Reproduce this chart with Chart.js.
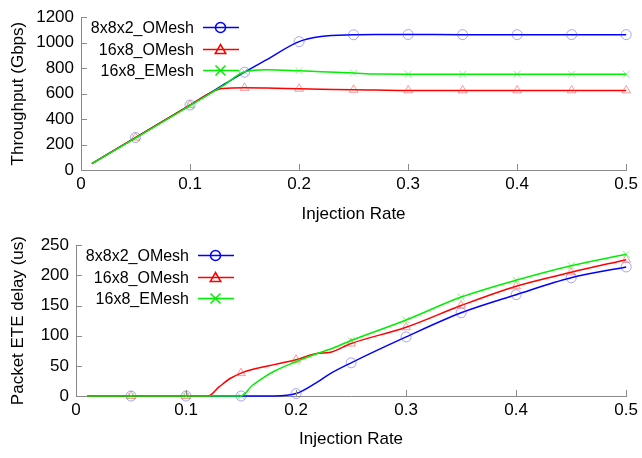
<!DOCTYPE html>
<html>
<head>
<meta charset="utf-8">
<script src="https://cdn.jsdelivr.net/npm/chart.js@4/dist/chart.umd.min.js"></script>
<style>
  html, body { margin: 0; padding: 0; background: #fff; }
  #wrap { width: 642px; height: 458px; position: relative; }
  .box { position: absolute; left: 0; width: 642px; }
</style>
</head>
<body>
<div id="wrap">
  <div class="box" style="top:0;height:228px"><canvas id="top" width="642" height="228"></canvas></div>
  <div class="box" style="top:228px;height:230px"><canvas id="bot" width="642" height="230"></canvas></div>
</div>
<script>
// ---------- data ----------
const seriesNames = ['8x8x2_OMesh', '16x8_OMesh', '16x8_EMesh'];
const markerRates = [0.05, 0.1, 0.15, 0.2, 0.25, 0.3, 0.35, 0.4, 0.45, 0.5];
const xTickLabels = ['0', '0.1', '0.2', '0.3', '0.4', '0.5'];

// Throughput (Gbps)
const thrRates  = [0.01, 0.05, 0.1, 0.12, 0.13, 0.15, 0.17, 0.2, 0.22, 0.25, 0.27, 0.3, 0.35, 0.4, 0.45, 0.5];
const thrOMesh3D = [50, 255, 510, 614, 666, 768, 865, 1008, 1048, 1062, 1064, 1064, 1063, 1063, 1063, 1063];
const thrOMesh2D = [50, 255, 510, 612, 640, 645, 643, 638, 635, 630, 628, 625, 625, 625, 625, 625];
const thrEMesh2D = [50, 250, 505, 608, 660, 772, 788, 780, 772, 762, 753, 752, 752, 752, 752, 752];
const thrTicks = [0, 200, 400, 600, 800, 1000, 1200];

// Packet ETE delay (us)
const delRates   = [0.01, 0.05, 0.1, 0.12, 0.13, 0.14, 0.15, 0.16, 0.17, 0.18, 0.2, 0.22, 0.23, 0.25, 0.3, 0.35, 0.4, 0.45, 0.5];
const delOMesh3D = [0, 0, 0, 0, 0, 0, 0, 0, 0, 0, 4, 24, 36, 55, 98, 138, 168, 196, 214];
const delOMesh2D = [0, 0, 0, 0, 15, 29, 38, 44, 48, 52, 60, 71, 72, 87, 114, 150, 182, 205, 226];
const delEMesh2D = [0, 0, 0, 0, 0, 0, 0, 17, 30, 41, 57, 71, 77, 92, 126, 164, 192, 216, 235];
const delTicks = [0, 50, 100, 150, 200, 250];

// ---------- styling ----------
const FONT = "'Liberation Sans', Arial, sans-serif";
const lineColors   = ['#0000ff', '#ff0000', '#00ee00'];
const markerColors = ['rgba(60,60,255,0.45)', 'rgba(255,60,60,0.5)', 'rgba(40,230,40,0.5)'];
const markerStyles = ['circle', 'triangle', 'crossRot'];
const drawOrder = [3, 2, 1];
const AXIS = '#8a8a8a';

function drawMarker(ctx, style, x, y, r) {
  ctx.beginPath();
  if (style === 'circle') {
    ctx.arc(x, y, r, 0, Math.PI * 2);
  } else if (style === 'triangle') {
    ctx.moveTo(x, y - r);
    ctx.lineTo(x + r * 1.05, y + r * 0.8);
    ctx.lineTo(x - r * 1.05, y + r * 0.8);
    ctx.closePath();
  } else {
    ctx.moveTo(x - r, y - r); ctx.lineTo(x + r, y + r);
    ctx.moveTo(x + r, y - r); ctx.lineTo(x - r, y + r);
  }
  ctx.stroke();
}

const gpPlugin = {
  id: 'gp',
  afterDraw(chart) {
    const ctx = chart.ctx;
    const area = chart.chartArea;
    const xs = chart.scales.x, ys = chart.scales.y;
    ctx.save();
    // inward ticks
    ctx.strokeStyle = AXIS; ctx.lineWidth = 1;
    ctx.beginPath();
    xs.ticks.forEach(t => {
      const px = Math.round(xs.getPixelForValue(t.value)) + 0.5;
      ctx.moveTo(px, area.bottom); ctx.lineTo(px, area.bottom - 6);
    });
    ys.ticks.forEach(t => {
      const py = Math.round(ys.getPixelForValue(t.value)) + 0.5;
      ctx.moveTo(area.left, py); ctx.lineTo(area.left + 6, py);
    });
    ctx.stroke();
    // legend
    ctx.font = '16px ' + FONT;
    ctx.textAlign = 'right';
    ctx.textBaseline = 'middle';
    seriesNames.forEach((name, i) => {
      const y = Math.round(area.top + 10 + i * 21.5) + 0.5;
      ctx.fillStyle = '#000';
      ctx.fillText(name, area.left + 113, y + 1);
      ctx.strokeStyle = lineColors[i];
      ctx.lineWidth = 1.5;
      ctx.beginPath();
      ctx.moveTo(area.left + 122, y); ctx.lineTo(area.left + 158, y);
      ctx.stroke();
      ctx.lineWidth = 1.5;
      drawMarker(ctx, markerStyles[i], area.left + 139.5, y, 5);
    });
    ctx.restore();
  }
};

function buildChart(id, rates, values, ticks, yTitle, dims) {
  const datasets = values.map((vals, i) => ({
    label: seriesNames[i],
    data: rates.map((r, k) => ({ x: r, y: vals[k] })),
    borderColor: lineColors[i],
    borderWidth: 1.5,
    cubicInterpolationMode: 'monotone',
    fill: false,
    order: drawOrder[i],
    pointStyle: markerStyles[i],
    pointRadius: c => markerRates.includes(c.raw.x) ? 5 : 0,
    pointBorderColor: markerColors[i],
    pointBackgroundColor: 'rgba(0,0,0,0)',
    pointBorderWidth: 1
  }));
  return new Chart(document.getElementById(id), {
    type: 'line',
    data: { datasets },
    plugins: [gpPlugin],
    options: {
      responsive: false,
      animation: false,
      events: [],
      clip: false,
      layout: { padding: { left: 0, right: 13, top: dims.top, bottom: 0 } },
      plugins: { legend: { display: false }, tooltip: { enabled: false } },
      scales: {
        x: {
          type: 'linear', min: 0, max: 0.5,
          afterFit: s => { s.height = dims.xh; },
          afterBuildTicks: s => { s.ticks = xTickLabels.map(v => ({ value: parseFloat(v) })); },
          ticks: {
            color: '#000', font: { family: FONT, size: 17 }, padding: 4,
            maxRotation: 0, autoSkip: false,
            callback: (v, idx) => xTickLabels[idx]
          },
          grid: { display: true, drawOnChartArea: false, drawTicks: false },
          border: { color: AXIS, width: 1 },
          title: { display: true, text: 'Injection Rate', color: '#000',
                   font: { family: FONT, size: 17 }, padding: { top: 0, bottom: dims.titlePad } }
        },
        y: {
          type: 'linear', min: ticks[0], max: ticks[ticks.length - 1],
          afterFit: s => { s.width = dims.yw; },
          afterBuildTicks: s => { s.ticks = ticks.map(v => ({ value: v })); },
          ticks: {
            color: '#000', font: { family: FONT, size: 17 }, padding: 7,
            autoSkip: false, callback: v => String(v)
          },
          grid: { display: true, drawOnChartArea: false, drawTicks: false },
          border: { color: AXIS, width: 1 },
          title: { display: true, text: yTitle, color: '#000',
                   font: { family: FONT, size: 17 }, padding: { top: 8, bottom: 0 } }
        }
      }
    }
  });
}

buildChart('top', thrRates, [thrOMesh3D, thrOMesh2D, thrEMesh2D], thrTicks, 'Throughput (Gbps)',
           { top: 15, xh: 58, yw: 81, titlePad: 3 });
buildChart('bot', delRates, [delOMesh3D, delOMesh2D, delEMesh2D], delTicks, 'Packet ETE delay (us)',
           { top: 14, xh: 62, yw: 76, titlePad: 8 });
</script>
</body>
</html>
